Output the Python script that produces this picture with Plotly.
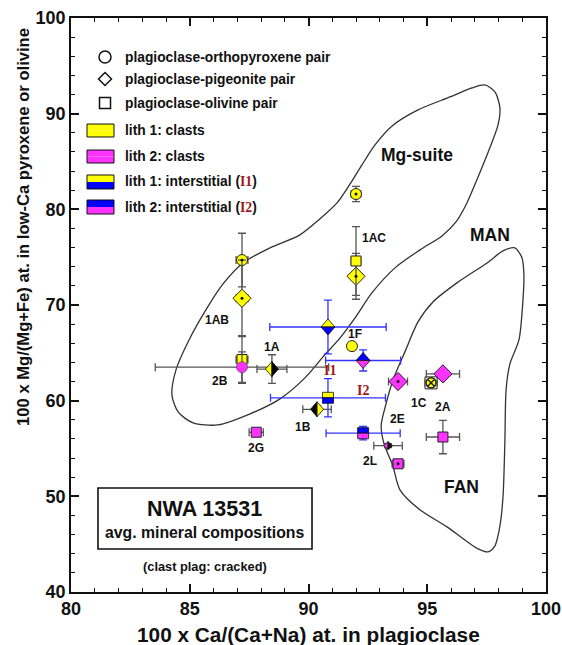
import plotly.graph_objects as go

# ---------------- data ----------------
# lith 1 clasts (yellow)
y_circ_x = [87.2, 92.0, 91.83]
y_circ_y = [74.7, 81.6, 65.7]
y_circ_ex = [0.25, 0.2, 0.0]
y_circ_ey = [2.8, 0.8, 0.0]

y_diam_x = [87.2, 92.0]
y_diam_y = [70.7, 73.0]
y_diam_ex = [0.25, 0.2]
y_diam_ey = [4.0, 2.4]

y_sq_x = [87.2, 92.0]
y_sq_y = [64.3, 74.6]
y_sq_ex = [0.25, 0.2]
y_sq_ey = [2.5, 3.6]

# half yellow / half black diamonds (1A, 1B)
hb_x = [88.46, 90.36]
hb_y = [63.3, 59.1]
hb_ex = [0.63, 0.6]
hb_ey = [1.5, 0.35]
hb_left = ["#ffff00", "#000000"]
hb_right = ["#000000", "#ffff00"]

# 1C
c1_x = [95.16]
c1_y = [61.86]
c1_ex = [0.25]

# lith 2 clasts (magenta)
m_circ_x = [87.2]
m_circ_y = [63.5]
m_circ_ex = [3.65]
m_circ_ey = [1.6]

m_diam_x = [93.77, 95.66]
m_diam_y = [62.0, 62.8]
m_diam_ex = [0.4, 0.7]

m_sq_x = [87.8, 95.66, 93.77]
m_sq_y = [56.7, 56.2, 53.4]
m_sq_ex = [0.3, 0.7, 0.25]
m_sq_ey = [0.0, 1.75, 0.3]

# 2L small split marker
l2_x = [93.35]
l2_y = [55.3]
l2_ex = [0.6]

# interstitial
i1_x = [90.82, 90.82]
i1_y = [67.7, 60.3]
i1_ex = [2.45, 2.42]
i1_ey = [2.8, 2.0]
i1_kind = ["diamond", "square"]

i2_x = [92.3, 92.3]
i2_y = [64.2, 56.6]
i2_ex = [1.58, 1.56]
i2_ey = [1.1, 0.7]
i2_kind = ["diamond", "square"]

# centre dots
dot_x = [87.2, 87.2, 92.0, 92.0, 93.77, 93.77]
dot_y = [74.7, 70.7, 81.6, 73.0, 62.0, 53.4]

# point labels
lab_text = ["1AB", "1A", "2B", "1AC", "1F", "1B", "2G", "2E", "1C", "2A", "2L"]
lab_x = [86.15, 88.46, 86.27, 92.75, 91.96, 89.77, 87.8, 93.73, 94.65, 95.66, 92.6]
lab_y = [68.4, 65.6, 62.1, 77.0, 67.0, 57.3, 55.1, 58.1, 59.8, 59.35, 53.7]

inter_text = ["I1", "I2"]
inter_x = [90.9, 92.3]
inter_y = [63.2, 61.1]

region_text = ["Mg-suite", "MAN", "FAN"]
region_x = [94.57, 97.64, 96.46]
region_y = [85.7, 77.3, 51.0]

# field outlines
mg_x = [97.43, 97.85, 98.06, 97.98, 97.6, 97.14, 96.67, 96.21, 95.62, 94.69, 93.64,
        92.67, 91.96, 91.33, 90.61, 89.85, 88.8, 87.54, 86.19, 85.14, 84.51, 84.25,
        84.42, 84.97, 85.68, 86.4, 87.24, 88.38, 89.64, 90.48, 91.2, 91.75, 92.25,
        92.8, 93.52, 94.61, 95.96, 96.88, 97.43]
mg_y = [93.0, 92.27, 90.6, 88.82, 86.2, 83.39, 80.67, 78.68, 77.22, 75.76, 73.88,
        71.26, 68.65, 66.56, 64.58, 62.38, 60.19, 58.62, 57.47, 57.68, 58.83, 60.61,
        63.22, 66.35, 69.49, 72.2, 74.4, 75.97, 77.33, 79.0, 80.67, 82.65, 84.64,
        86.73, 88.71, 90.39, 91.75, 92.69, 93.0]

fan_x = [98.69, 98.99, 99.07, 99.03, 98.86, 98.48, 98.32, 98.27, 98.19, 98.06, 97.85,
         97.56, 97.14, 95.83, 94.69, 93.85, 93.55, 93.18, 93.06, 93.22, 93.56, 94.06,
         94.61, 95.24, 96.25, 97.52, 98.19, 98.69]
fan_y = [75.97, 74.92, 73.14, 70.53, 66.35, 63.84, 61.13, 55.9, 49.95, 46.92, 44.83,
         44.2, 44.51, 46.81, 48.59, 50.68, 53.2, 55.5, 57.4, 59.25, 62.17, 65.1,
         68.23, 70.32, 72.31, 74.4, 75.65, 75.97]

x_title = "100 x Ca/(Ca+Na) at. in plagioclase"
y_title = "100 x Mg/(Mg+Fe) at. in low-Ca pyroxene or olivine"

# ---------------- figure ----------------
FONT = "Liberation Sans, Arial, sans-serif"
SERIF = "Liberation Serif, Times New Roman, serif"
YEL = "#ffff00"
MAG = "#ff33ff"
BLU = "#0000ff"
GREY = "#555555"
EBLUE = "#3333ff"
INK = "#111111"

fig = go.Figure()

# outlines
for fx, fy in [(mg_x, mg_y), (fan_x, fan_y)]:
    fig.add_trace(go.Scatter(x=fx, y=fy, mode="lines",
                             line=dict(color="#333333", width=1.3, shape="spline", smoothing=0.8),
                             hoverinfo="skip"))


def eb(arr, color):
    return dict(type="data", array=arr, color=color, thickness=1.3, width=4)


def pts(x, y, ex, ey, symbol, fill, size, color=GREY, lw=1):
    kw = {}
    if ex is not None:
        kw["error_x"] = eb(ex, color)
    if ey is not None:
        kw["error_y"] = eb(ey, color)
    fig.add_trace(go.Scatter(x=x, y=y, mode="markers",
                             marker=dict(symbol=symbol, color=fill, size=size,
                                         line=dict(color="#222222", width=lw)),
                             **kw))


# lith 1 clasts
pts(y_circ_x, y_circ_y, y_circ_ex, y_circ_ey, "circle", YEL, 11)
pts(y_diam_x, y_diam_y, y_diam_ex, y_diam_ey, "diamond", YEL, 14)
pts(y_sq_x, y_sq_y, y_sq_ex, y_sq_ey, "square", YEL, 10)
pts(hb_x, hb_y, hb_ex, hb_ey, "diamond", "rgba(0,0,0,0)", 1, lw=0)
# 1C
pts(c1_x, c1_y, c1_ex, [0.3], "square", "rgba(255,255,255,1)", 12, lw=1)
pts(c1_x, c1_y, None, None, "circle-x", YEL, 10, lw=1.5)
# lith 2 clasts
pts(m_circ_x, m_circ_y, m_circ_ex, m_circ_ey, "circle", MAG, 11, lw=0.5)
pts(m_diam_x, m_diam_y, m_diam_ex, [0.3, 0.3], "diamond", MAG, 14)
pts(m_sq_x, m_sq_y, m_sq_ex, m_sq_ey, "square", MAG, 10)
pts(l2_x, l2_y, l2_ex, [0.2], "diamond", "rgba(0,0,0,0)", 1, lw=0)
# interstitial error bars
pts(i1_x, i1_y, i1_ex, i1_ey, "square", "rgba(0,0,0,0)", 1, color=EBLUE, lw=0)
pts(i2_x, i2_y, i2_ex, i2_ey, "square", "rgba(0,0,0,0)", 1, color=EBLUE, lw=0)
# centre dots
fig.add_trace(go.Scatter(x=dot_x, y=dot_y, mode="markers",
                         marker=dict(symbol="circle", color=INK, size=3)))

shapes = []


def half_diamond(x, y, w, h, c1, c2, split="v"):
    if split == "v":   # left / right halves
        p1 = f"M0,{h} L{-w},0 L0,{-h} Z"
        p2 = f"M0,{h} L{w},0 L0,{-h} Z"
    else:              # top / bottom halves
        p1 = f"M{-w},0 L0,{h} L{w},0 Z"
        p2 = f"M{-w},0 L0,{-h} L{w},0 Z"
    for p, c in [(p1, c1), (p2, c2)]:
        shapes.append(dict(type="path", xref="x", yref="y", xsizemode="pixel", ysizemode="pixel",
                           xanchor=x, yanchor=y, path=p, fillcolor=c,
                           line=dict(color=INK, width=0.8)))


def half_square(x, y, s, ctop, cbot):
    shapes.append(dict(type="rect", xref="x", yref="y", xsizemode="pixel", ysizemode="pixel",
                       xanchor=x, yanchor=y, x0=-s, x1=s, y0=0, y1=s, fillcolor=ctop,
                       line=dict(color=INK, width=0.8)))
    shapes.append(dict(type="rect", xref="x", yref="y", xsizemode="pixel", ysizemode="pixel",
                       xanchor=x, yanchor=y, x0=-s, x1=s, y0=-s, y1=0, fillcolor=cbot,
                       line=dict(color=INK, width=0.8)))


for x, y, cl, cr in zip(hb_x, hb_y, hb_left, hb_right):
    half_diamond(x, y, 6.5, 7.5, cl, cr, "v")
for x, y in zip(l2_x, l2_y):
    half_diamond(x, y, 4.5, 4, MAG, INK, "v")
for x, y, k in zip(i1_x, i1_y, i1_kind):
    if k == "diamond":
        half_diamond(x, y, 7, 8, YEL, BLU, "h")
    else:
        half_square(x, y, 5.5, YEL, BLU)
for x, y, k in zip(i2_x, i2_y, i2_kind):
    if k == "diamond":
        half_diamond(x, y, 7, 8, BLU, MAG, "h")
    else:
        half_square(x, y, 5.5, BLU, MAG)

# ---------------- legend (drawn in paper space) ----------------
LX = 0.0716
leg_sym = [("circle", 0.932), ("diamond", 0.8937), ("square", 0.8519)]
for sym, py in leg_sym:
    if sym == "circle":
        shapes.append(dict(type="circle", xref="paper", yref="paper", xsizemode="pixel",
                           ysizemode="pixel", xanchor=LX, yanchor=py, x0=-6, x1=6, y0=-6, y1=6,
                           line=dict(color=INK, width=1.5)))
    elif sym == "diamond":
        shapes.append(dict(type="path", xref="paper", yref="paper", xsizemode="pixel",
                           ysizemode="pixel", xanchor=LX, yanchor=py,
                           path="M0,6.5 L6.5,0 L0,-6.5 L-6.5,0 Z",
                           line=dict(color=INK, width=1.5)))
    else:
        shapes.append(dict(type="rect", xref="paper", yref="paper", xsizemode="pixel",
                           ysizemode="pixel", xanchor=LX, yanchor=py, x0=-5.5, x1=5.5, y0=-5.5,
                           y1=5.5, line=dict(color=INK, width=1.5)))

RX0, RX1 = 0.0337, 0.0905
leg_rects = [
    (0.7927, 0.8153, YEL, YEL),
    (0.7474, 0.7700, MAG, MAG),
    (0.7021, 0.7265, BLU, YEL),
    (0.6585, 0.6829, MAG, BLU),
]
for y0, y1, cb, ct in leg_rects:
    ym = (y0 + y1) / 2
    shapes.append(dict(type="rect", xref="paper", yref="paper", x0=RX0, x1=RX1, y0=y0, y1=ym,
                       fillcolor=cb, line=dict(width=0)))
    shapes.append(dict(type="rect", xref="paper", yref="paper", x0=RX0, x1=RX1, y0=ym, y1=y1,
                       fillcolor=ct, line=dict(width=0)))
    shapes.append(dict(type="rect", xref="paper", yref="paper", x0=RX0, x1=RX1, y0=y0, y1=y1,
                       line=dict(color=INK, width=1)))

red_span = f'<span style="color:#a01818;font-family:{SERIF}">'
leg_text = [
    ("plagioclase-orthopyroxene pair", 0.932),
    ("plagioclase-pigeonite pair", 0.8937),
    ("plagioclase-olivine pair", 0.8519),
    ("lith 1: clasts", 0.8040),
    ("lith 2: clasts", 0.7587),
    ("lith 1: interstitial (" + red_span + "I1</span>)", 0.7143),
    ("lith 2: interstitial (" + red_span + "I2</span>)", 0.6707),
]
annotations = []
for t, py in leg_text:
    annotations.append(dict(x=0.1095, y=py, xref="paper", yref="paper", text=t, showarrow=False,
                            xanchor="left", yanchor="middle",
                            font=dict(family=FONT, size=13.8, color=INK, weight="bold")))

# info box
shapes.append(dict(type="rect", xref="paper", yref="paper", x0=0.0568, x1=0.5074, y0=0.0749,
                   y1=0.1812, line=dict(color=INK, width=1.6)))
BOXC = 0.2821
annotations.append(dict(x=BOXC, y=0.1446, xref="paper", yref="paper", text="NWA 13531",
                        showarrow=False, xanchor="center", yanchor="middle",
                        font=dict(family=FONT, size=21.5, color=INK, weight="bold")))
annotations.append(dict(x=BOXC, y=0.1045, xref="paper", yref="paper",
                        text="avg. mineral compositions", showarrow=False,
                        xanchor="center", yanchor="middle",
                        font=dict(family=FONT, size=15.8, color=INK, weight="bold")))
annotations.append(dict(x=BOXC, y=0.0436, xref="paper", yref="paper",
                        text="(clast plag: cracked)", showarrow=False,
                        xanchor="center", yanchor="middle",
                        font=dict(family=FONT, size=12.8, color=INK, weight="bold")))

# point labels
for t, x, y in zip(lab_text, lab_x, lab_y):
    annotations.append(dict(x=x, y=y, xref="x", yref="y", text=t, showarrow=False,
                            font=dict(family=FONT, size=12, color=INK, weight="bold")))
for t, x, y in zip(inter_text, inter_x, inter_y):
    annotations.append(dict(x=x, y=y, xref="x", yref="y", text=t, showarrow=False,
                            font=dict(family=SERIF, size=14, color="#a01818", weight="bold")))
for t, x, y in zip(region_text, region_x, region_y):
    annotations.append(dict(x=x, y=y, xref="x", yref="y", text=t, showarrow=False,
                            font=dict(family=FONT, size=17.5, color=INK, weight="bold")))

# axis titles
annotations.append(dict(x=0.5, y=-0.0749, xref="paper", yref="paper", text=x_title,
                        showarrow=False, xanchor="center", yanchor="middle",
                        font=dict(family=FONT, size=20.8, color=INK, weight="bold")))
annotations.append(dict(x=-0.099, y=0.636, xref="paper", yref="paper", text=y_title,
                        showarrow=False, xanchor="center", yanchor="middle", textangle=-90,
                        font=dict(family=FONT, size=16.6, color=INK, weight="bold")))

axis_common = dict(showline=True, linecolor=INK, linewidth=1.5, mirror="allticks",
                   ticks="inside", ticklen=8, tickwidth=1.5, tickcolor=INK,
                   showgrid=False, zeroline=False, automargin=False,
                   tickfont=dict(family=FONT, size=18, color=INK, weight="bold"))

fig.update_layout(
    width=562, height=645,
    margin=dict(l=71, r=16, t=18, b=53),
    paper_bgcolor="white", plot_bgcolor="white",
    showlegend=False,
    xaxis=dict(range=[80, 100], dtick=5, tick0=80,
               minor=dict(dtick=1, ticks="inside", ticklen=4, tickcolor=INK, tickwidth=1.2),
               **axis_common),
    yaxis=dict(range=[40, 100], dtick=10, tick0=40,
               minor=dict(dtick=2, ticks="inside", ticklen=4, tickcolor=INK, tickwidth=1.2),
               **axis_common),
    shapes=shapes,
    annotations=annotations,
)

fig.write_html("out.html", config={"displayModeBar": False},
               post_script="document.body.style.margin='0';document.body.style.overflow='hidden';")
